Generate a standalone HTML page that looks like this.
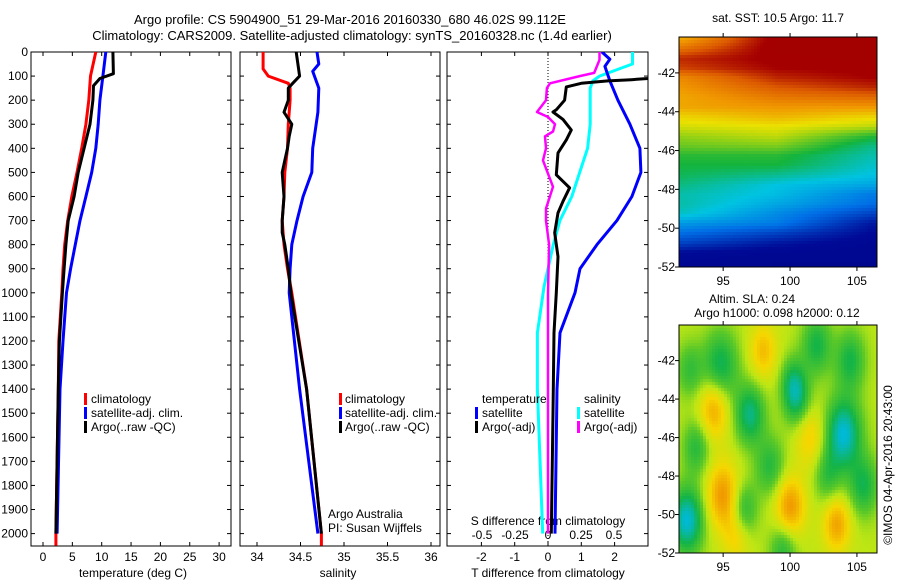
<!DOCTYPE html>
<html><head><meta charset="utf-8"><style>
body{margin:0;background:#fff}
svg{display:block;font-family:"Liberation Sans",sans-serif;font-size:12px}
</style></head><body>
<svg id="s" width="900" height="580" viewBox="0 0 900 580">
<defs>
<clipPath id="c1"><rect x="31" y="52" width="200" height="494"/></clipPath>
<clipPath id="c2"><rect x="240" y="52" width="200" height="494"/></clipPath>
<clipPath id="c3"><rect x="447" y="52" width="201" height="494"/></clipPath>
</defs>
<text x="350" y="24" text-anchor="middle" font-size="13">Argo profile: CS 5904900_51 29-Mar-2016 20160330_680 46.02S 99.112E</text>
<text x="352" y="40" text-anchor="middle" font-size="13">Climatology: CARS2009. Satellite-adjusted climatology: synTS_20160328.nc (1.4d earlier)</text>
<g id="g"></g>
</svg>
<script>
// ---- data ----
const tDepth=[0,100,200,300,400,500,600,700,800,900,1000,1200,1400,2000,2050];
const tClim=[9.0,8.1,7.8,7.3,6.6,5.8,4.9,4.2,3.7,3.4,3.2,2.7,2.6,2.2,2.2];
const tSatDepth=[0,100,200,300,400,500,600,700,800,900,1000,1200,1400,2000];
const tSat=[10.7,10.2,9.7,9.4,9.0,8.3,7.3,6.3,5.5,4.7,4.0,3.4,2.9,2.4];
const tArgoDepth=[0,90,110,140,200,300,400,500,600,700,800,900,1000,1200,1400,2000];
const tArgo=[11.9,12.0,9.7,8.6,8.5,8.0,7.0,6.0,5.3,4.3,3.9,3.6,3.3,2.8,2.6,2.2];
const sClimDepth=[0,70,100,130,150,200,300,400,500,600,700,800,900,1000,1400,2000,2050];
const sClim=[34.07,34.07,34.13,34.36,34.38,34.38,34.36,34.35,34.32,34.31,34.29,34.31,34.35,34.40,34.57,34.74,34.74];
const sSatDepth=[0,50,80,150,250,400,500,600,700,800,900,1000,1400,2000];
const sSat=[34.69,34.71,34.64,34.71,34.70,34.64,34.63,34.53,34.46,34.40,34.38,34.37,34.49,34.70];
const sArgoDepth=[0,50,100,130,150,200,250,300,350,400,450,500,600,700,750,800,900,1000,1400,2000];
const sArgo=[34.45,34.47,34.49,34.41,34.36,34.36,34.31,34.40,34.37,34.35,34.32,34.29,34.31,34.29,34.29,34.32,34.36,34.39,34.57,34.74];
const dTArgoDepth=[0,100,110,115,120,130,145,200,240,249,280,324,365,419,510,564,620,668,751,850,1000,1166,1500,2000];
const dTArgo=[3.3,3.2,3.0,2.5,1.8,1.0,0.55,0.5,0.25,0.15,0.45,0.7,0.55,0.3,0.25,0.65,0.45,0.3,0.2,0.3,0.25,0.18,0.15,0.1];
const dTSatDepth=[0,30,60,120,200,300,400,500,600,700,800,900,1000,1166,1400,2000];
const dTSat=[1.62,1.86,1.71,1.86,2.1,2.46,2.76,2.79,2.52,2.07,1.47,0.96,0.81,0.36,0.27,0.21];
const dSArgoDepth=[0,33,87,100,112,130,150,200,249,270,300,330,350,400,450,560,650,700,800,1000,2000];
const dSArgo=[0.39,0.39,0.35,0.24,0.15,0.015,-0.008,-0.015,-0.083,0,0.053,0.038,-0.023,-0.015,-0.038,0.038,-0.015,-0.015,0.008,0,0];
const dSSatDepth=[0,50,62,100,120,150,300,400,500,600,700,800,975,1166,1400,2000];
const dSSat=[0.64,0.64,0.58,0.39,0.34,0.32,0.32,0.30,0.24,0.18,0.09,0.04,-0.03,-0.08,-0.08,-0.04];
const depthTicks=[0,100,200,300,400,500,600,700,800,900,1000,1100,1200,1300,1400,1500,1600,1700,1800,1900,2000];
const tTicks=[0,5,10,15,20,25,30];
const sTicks=[34,34.5,35,35.5,36];
const sTickLabels=["34","34.5","35","35.5","36"];
const dTTicks=[-2,-1,0,1,2];
const dSTicks=[-0.5,-0.25,0,0.25,0.5];
const dSTickLabels=["-0.5","-0.25","0","0.25","0.5"];
// SST map: jet-index values by latitude at three longitudes
const sstLats=[-40.25,-40.75,-41.25,-41.75,-42.25,-42.75,-43.25,-43.75,-44.25,-44.75,-45.25,-45.75,-46.25,-46.75,-47.25,-47.75,-48.25,-48.75,-49.25,-49.75,-50.25,-50.75,-51.25,-51.75];
const sstLons=[92,99,106];
const sstWest=[0.78,0.85,0.92,0.9,0.82,0.8,0.78,0.78,0.72,0.68,0.62,0.58,0.52,0.5,0.48,0.45,0.42,0.42,0.4,0.32,0.26,0.2,0.12,0.1];
const sstMid=[0.97,0.97,0.96,0.95,0.92,0.88,0.84,0.8,0.76,0.7,0.66,0.6,0.52,0.5,0.44,0.38,0.37,0.34,0.3,0.28,0.2,0.14,0.1,0.08];
const sstEast=[0.97,0.97,0.97,0.96,0.95,0.92,0.86,0.8,0.72,0.66,0.52,0.45,0.42,0.4,0.38,0.34,0.28,0.26,0.2,0.14,0.12,0.1,0.09,0.08];
// SLA map blobs: lon, lat, amplitude, radius(deg)
const slaLon=[94.8,97,100.5,104,104.5,92.3,96.5,98.5,94.3,98,95,100,103.5,101.5,96,93,102,99.5,105.5,102.8,92.5,100.2];
const slaLat=[-42.3,-44.8,-44,-45.8,-42,-50.3,-49.8,-47.5,-44.5,-41.5,-49,-49.6,-50.5,-46,-51,-46.5,-41.2,-51.8,-48.5,-48,-42.5,-43];
const slaAmp=[-0.8,-0.9,-0.8,-1.2,-0.7,-1.2,-0.7,-0.6,0.8,0.6,0.9,0.9,0.8,0.5,0.5,-0.6,-0.7,-0.6,-0.7,-0.5,-0.5,-0.5];
const slaRad=[1.3,1.1,1.0,1.3,1.1,1.2,1.0,1.1,1.1,1.0,1.2,1.1,1.0,1.1,1.0,1.0,1.1,1.0,1.1,1.0,1.0,0.9];

// ---- helpers ----
const NS='http://www.w3.org/2000/svg';
const G=document.getElementById('g');
function mk(t,a,p){const e=document.createElementNS(NS,t);for(const k in a)e.setAttribute(k,a[k]);(p||G).appendChild(e);return e;}
const yD=d=>52+d*0.2408;
const xT=v=>43+v*5.87;
const xS=v=>257+(v-34)*87;
const xDT=v=>548+v*33.3;
const xDS=v=>548+v*132;

function line(ds,vs,xf,col,clip,name,w){
  let d='';ds.forEach((dp,i)=>{d+=(i?'L':'M')+xf(vs[i]).toFixed(1)+' '+yD(dp).toFixed(1);});
  const p=mk('path',{d:d,fill:'none',stroke:col,'stroke-width':w||3,'clip-path':'url(#'+clip+')','stroke-linejoin':'round'});
  
  
}
function txt(x,y,s,anchor,name,extra){const t=mk('text',Object.assign({x:x,y:y,'text-anchor':anchor||'start'},extra||{}));t.textContent=s;
  
  return t;}
function frame(x0,x1,name){
  const r=mk('rect',{x:x0,y:52,width:x1-x0,height:494,fill:'none',stroke:'#000','stroke-width':1});
  
  
  depthTicks.forEach(d=>{const y=yD(d);mk('line',{x1:x0,y1:y,x2:x0+4,y2:y,stroke:'#000'});mk('line',{x1:x1-4,y1:y,x2:x1,y2:y,stroke:'#000'});});
}
function xticks(ticks,xf,labels,name,y){
  ticks.forEach((v,i)=>{const x=xf(v);mk('line',{x1:x,y1:52,x2:x,y2:56,stroke:'#000'});mk('line',{x1:x,y1:542,x2:x,y2:546,stroke:'#000'});
    txt(x,y||561,labels?labels[i]:String(v),'middle',name);});
}
function marker(x,y,col){const r=mk('rect',{x:x,y:y-10,width:3,height:12,fill:col});
  
  }

// ---- panel 1 ----
frame(31,231,'temperature-panel');
depthTicks.forEach(d=>txt(28,yD(d)+4,String(d),'end','depth-tick-label'));
xticks(tTicks,xT,null,'temperature-tick-label');
txt(133,577,'temperature (deg C)','middle','temperature-axis-title');
line(tDepth,tClim,xT,'#f00','c1','temperature-climatology-line');
line(tSatDepth,tSat,xT,'#00f','c1','temperature-satellite-line');
line(tArgoDepth,tArgo,xT,'#000','c1','temperature-argo-line');
marker(84,403,'#f00');txt(91,403,'climatology','start','legend-climatology');
marker(84,417,'#00f');txt(91,417,'satellite-adj. clim.','start','legend-satellite');
marker(84,431,'#000');txt(91,431,'Argo(..raw -QC)','start','legend-argo');

// ---- panel 2 ----
frame(240,440,'salinity-panel');
xticks(sTicks,xS,sTickLabels,'salinity-tick-label');
txt(338,577,'salinity','middle','salinity-axis-title');
line(sClimDepth,sClim,xS,'#f00','c2','salinity-climatology-line');
line(sSatDepth,sSat,xS,'#00f','c2','salinity-satellite-line');
line(sArgoDepth,sArgo,xS,'#000','c2','salinity-argo-line');
marker(339,403,'#f00');txt(345,403,'climatology','start','legend-climatology');
marker(339,417,'#00f');txt(345,417,'satellite-adj. clim.','start','legend-satellite');
marker(339,431,'#000');txt(345,431,'Argo(..raw -QC)','start','legend-argo');
txt(328,518,'Argo Australia','start','credit-argo-australia');
txt(328,532,'PI: Susan Wijffels','start','credit-pi');

// ---- panel 3 ----
frame(447,648,'difference-panel');
xticks(dTTicks,xDT,null,'t-diff-tick-label');
dSTicks.forEach((v,i)=>txt(xDS(v),539,dSTickLabels[i],'middle','s-diff-tick-label'));
txt(548,525,'S difference from climatology','middle','s-diff-axis-title');
txt(548,577,'T difference from climatology','middle','t-diff-axis-title');
const zl=mk('line',{x1:548,y1:52,x2:548,y2:546,stroke:'#000','stroke-dasharray':'1,2'});


line(dSSatDepth,dSSat,xDS,'#0ff','c3','s-diff-satellite-line');
line(dTSatDepth,dTSat,xDT,'#00f','c3','t-diff-satellite-line');
line(dTArgoDepth,dTArgo,xDT,'#000','c3','t-diff-argo-line');
line(dSArgoDepth,dSArgo,xDS,'#f0f','c3','s-diff-argo-line',2.5);
txt(482,403,'temperature','start','legend-temperature-header');
txt(584,403,'salinity','start','legend-salinity-header');
marker(475,417,'#00f');txt(482,417,'satellite','start','legend-t-satellite');
marker(475,431,'#000');txt(482,431,'Argo(-adj)','start','legend-t-argo');
marker(577,417,'#0ff');txt(584,417,'satellite','start','legend-s-satellite');
marker(577,431,'#f0f');txt(584,431,'Argo(-adj)','start','legend-s-argo');

// ---- maps ----
const MX0=679,MX1=877,LON0=91.7,LON1=106.5;
const xL=l=>MX0+(l-LON0)*(MX1-MX0)/(LON1-LON0);
function interp(xs,ys,x){if(x<=xs[0])return ys[0];for(let i=1;i<xs.length;i++){if(x<=xs[i]){const f=(x-xs[i-1])/(xs[i]-xs[i-1]);return ys[i-1]+f*(ys[i]-ys[i-1]);}}return ys[ys.length-1];}
function pal(stops,v){for(let i=1;i<stops.length;i++){if(v<=stops[i][0]||i==stops.length-1){const a=stops[i-1],b=stops[i];let f=(v-a[0])/(b[0]-a[0]);f=Math.max(0,Math.min(1,f));
  return 'rgb('+[1,2,3].map(k=>Math.round(a[k]+f*(b[k]-a[k]))).join(',')+')';}}}
const sstPal=[[0,0,0,130],[0.12,0,10,150],[0.26,0,110,230],[0.38,0,195,225],[0.5,20,180,60],[0.62,150,210,20],[0.7,235,225,0],[0.8,240,150,0],[0.88,220,90,0],[0.95,165,0,0],[1,160,0,0]];
const slaPal=[[-1.2,0,185,215],[-0.7,20,180,70],[-0.3,90,200,40],[0,190,230,20],[0.4,245,215,0],[0.9,240,150,0],[1.2,235,130,0]];

function map(y0,y1,latTop,name,cellFn){
  const g=mk('g',{});
  
  
  const yLat=la=>y0+(latTop-la)*(y1-y0)/(latTop+52);
  const cs=3;
  for(let y=y0;y<y1;y+=cs){for(let x=MX0;x<MX1;x+=cs){
    const lon=LON0+(x+cs/2-MX0)*(LON1-LON0)/(MX1-MX0);const lat=latTop-(y+cs/2-y0)*(latTop+52)/(y1-y0);
    mk('rect',{x:x,y:y,width:Math.min(cs+0.3,MX1-x),height:Math.min(cs+0.3,y1-y),fill:cellFn(lon,lat)},g);}}
  mk('rect',{x:MX0,y:y0,width:MX1-MX0,height:y1-y0,fill:'none',stroke:'#000'},g);
  [-42,-44,-46,-48,-50,-52].forEach(la=>{const y=yLat(la);mk('line',{x1:MX0-4,y1:y,x2:MX0,y2:y,stroke:'#000'},g);txt(MX0-4,y+4,String(la),'end','map-lat-label');});
  [95,100,105].forEach(l=>{const x=xL(l);mk('line',{x1:x,y1:y1,x2:x,y2:y1+4,stroke:'#000'},g);mk('line',{x1:x,y1:y0-4,x2:x,y2:y0,stroke:'#000'},g);txt(x,y1+18,String(l),'middle','map-lon-label');});
}
map(37,267,-40.15,'sst-map',(lon,lat)=>{
  const w=interp(sstLats.map(v=>-v),sstWest,-lat),m=interp(sstLats.map(v=>-v),sstMid,-lat),e=interp(sstLats.map(v=>-v),sstEast,-lat);
  const v=interp(sstLons,[w,m,e],lon);return pal(sstPal,v);});
txt(778,22,'sat. SST: 10.5 Argo: 11.7','middle','sst-map-title');
map(325,553,-40.15,'sla-map',(lon,lat)=>{
  let v=0;for(let i=0;i<slaLon.length;i++){const dx=(lon-slaLon[i])/slaRad[i],dy=(lat-slaLat[i])/(slaRad[i]*1.4);v+=slaAmp[i]*Math.exp(-(dx*dx+dy*dy));}
  return pal(slaPal,v);});
txt(752,303,'Altim. SLA: 0.24','middle','sla-map-title');
txt(777,317,'Argo h1000: 0.098 h2000: 0.12','middle','sla-map-subtitle');
txt(0,0,'©IMOS 04-Apr-2016 20:43:00','middle','imos-credit',{transform:'translate(892,465) rotate(-90)'});
</script>
</body></html>
